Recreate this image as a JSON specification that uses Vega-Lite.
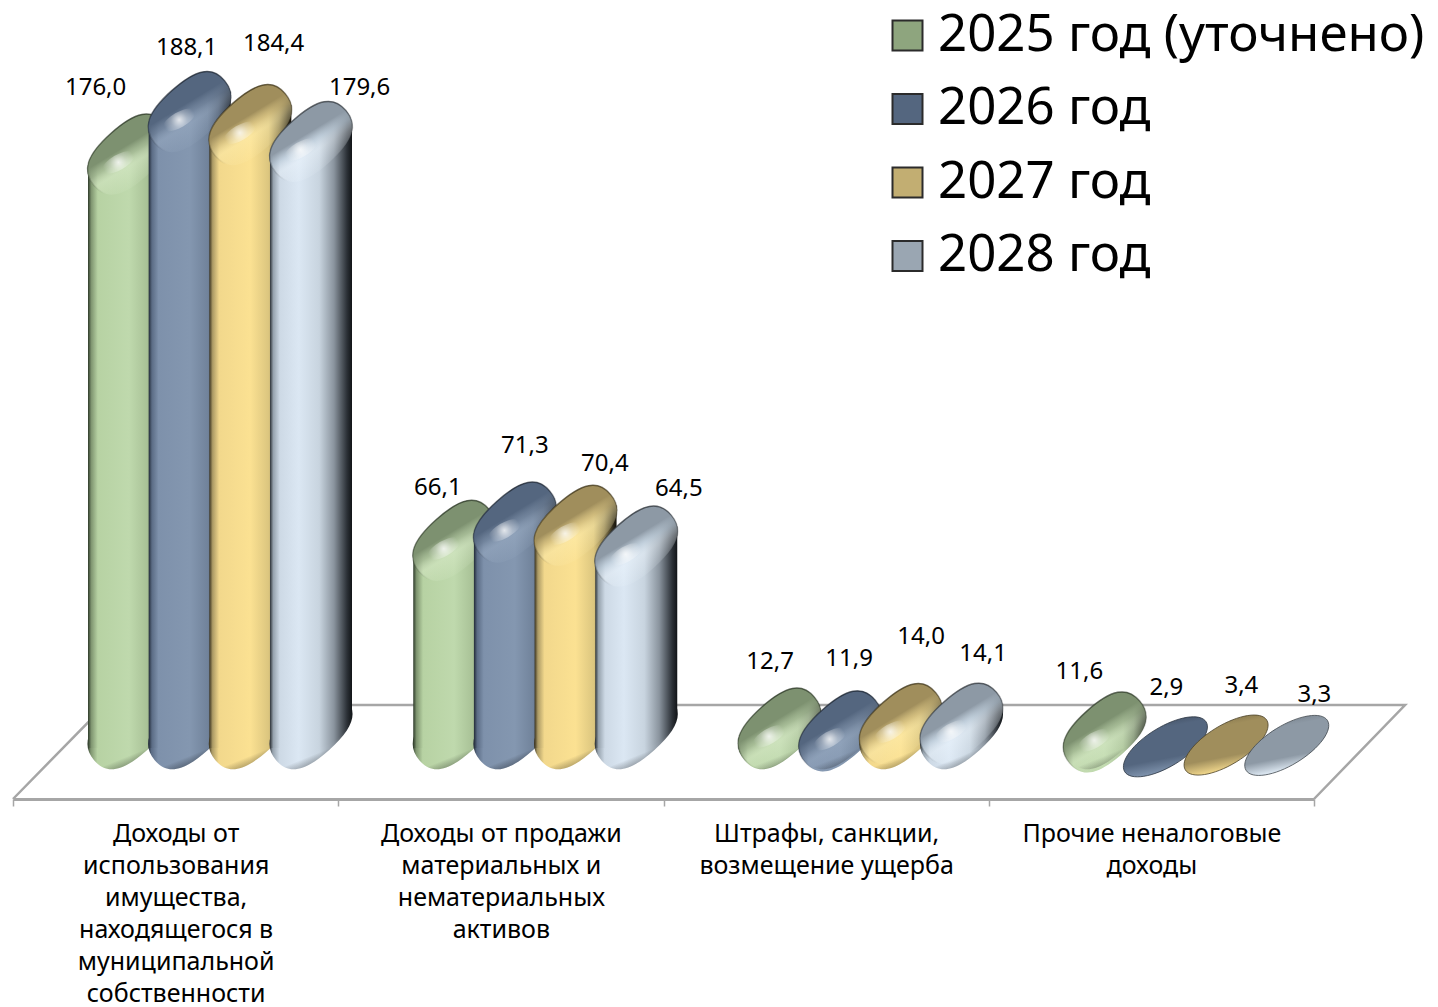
{"$schema":"https://vega.github.io/schema/vega-lite/v6.json","autosize":{"type":"none"},"padding":{"left":13,"top":0,"right":124,"bottom":208},"width":1301,"height":799,"background":"white","config":{"view":{"stroke":null},"font":"Noto Sans"},
"datasets":{"bars":[
{"cat":"Доходы от|использования|имущества,|находящегося в|муниципальной|собственности","year":"2025 год (уточнено)","value":176.0,"lbl":"176,0"},
{"cat":"Доходы от|использования|имущества,|находящегося в|муниципальной|собственности","year":"2026 год","value":188.1,"lbl":"188,1"},
{"cat":"Доходы от|использования|имущества,|находящегося в|муниципальной|собственности","year":"2027 год","value":184.4,"lbl":"184,4"},
{"cat":"Доходы от|использования|имущества,|находящегося в|муниципальной|собственности","year":"2028 год","value":179.6,"lbl":"179,6"},
{"cat":"Доходы от продажи|материальных и|нематериальных|активов","year":"2025 год (уточнено)","value":66.1,"lbl":"66,1"},
{"cat":"Доходы от продажи|материальных и|нематериальных|активов","year":"2026 год","value":71.3,"lbl":"71,3"},
{"cat":"Доходы от продажи|материальных и|нематериальных|активов","year":"2027 год","value":70.4,"lbl":"70,4"},
{"cat":"Доходы от продажи|материальных и|нематериальных|активов","year":"2028 год","value":64.5,"lbl":"64,5"},
{"cat":"Штрафы, санкции,|возмещение ущерба","year":"2025 год (уточнено)","value":12.7,"lbl":"12,7"},
{"cat":"Штрафы, санкции,|возмещение ущерба","year":"2026 год","value":11.9,"lbl":"11,9"},
{"cat":"Штрафы, санкции,|возмещение ущерба","year":"2027 год","value":14.0,"lbl":"14,0"},
{"cat":"Штрафы, санкции,|возмещение ущерба","year":"2028 год","value":14.1,"lbl":"14,1"},
{"cat":"Прочие неналоговые|доходы","year":"2025 год (уточнено)","value":11.6,"lbl":"11,6"},
{"cat":"Прочие неналоговые|доходы","year":"2026 год","value":2.9,"lbl":"2,9"},
{"cat":"Прочие неналоговые|доходы","year":"2027 год","value":3.4,"lbl":"3,4"},
{"cat":"Прочие неналоговые|доходы","year":"2028 год","value":3.3,"lbl":"3,3"}],
"floor":[{"fx":0,"fy":-19.06,"step":1},{"fx":0.283,"fy":7.68,"step":2},{"fx":4.28,"fy":7.68,"step":3},{"fx":4,"fy":-19.06,"step":4}]},
"resolve":{"scale":{"x":"independent"}},
"layer":[
{"data":{"name":"floor"},"mark":{"type":"line","color":"#a6a6a6","strokeWidth":2.5},"encoding":{"x":{"field":"fx","type":"quantitative","scale":{"domain":[0,4],"nice":false,"zero":false},"axis":null},"y":{"field":"fy","type":"quantitative","scale":{"domain":[-19.06,208.25],"nice":false,"zero":false},"axis":null},"order":{"field":"step"}}},
{"data":{"name":"bars"},
"encoding":{"x":{"field":"cat","type":"nominal","sort":null,"scale":{"paddingInner":0,"paddingOuter":0},"axis":{"title":null,"labelAngle":0,"labelExpr":"split(datum.label,'|')","labelLineHeight":32,"labelFontSize":25,"labelColor":"#000","labelLimit":0,"labelOverlap":false,"labelPadding":15,"labelBaseline":"top","tickBand":"extent","tickSize":7,"tickColor":"#a6a6a6","tickWidth":1.5,"domainColor":"#a6a6a6","domainWidth":3,"grid":false}},
"y":{"field":"value","type":"quantitative","scale":{"domain":[-19.06,208.25],"nice":false,"zero":false},"axis":null},
"xOffset":{"field":"year","type":"nominal","sort":null,"scale":{"type":"point","domain":["2025 год (уточнено)","2026 год","2027 год","2028 год"],"range":[116,298],"padding":0}}},
"layer":[
{"transform":[{"filter":"datum.year==='2025 год (уточнено)'"}],"layer":[
{"transform":[{"filter":"datum.value>=12.5"}],"mark":{"type":"point","filled":true,"opacity":1,"size":10000,"shape":"M -0.699 0.563 C -0.95 0.267 -0.847 -0.047 -0.358 -0.483 C 0.132 -0.919 0.449 -0.979 0.699 -0.683 C 0.95 -0.387 0.847 -0.073 0.358 0.363 C -0.132 0.799 -0.449 0.859 -0.699 0.563 Z","fill":{"gradient":"linear","x1":0,"y1":0,"x2":1,"y2":0,"stops":[{"offset":0,"color":"#2e3a2a"},{"offset":0.04,"color":"#7f9570"},{"offset":0.12,"color":"#b7d2a3"},{"offset":0.5,"color":"#bfd9ad"},{"offset":0.72,"color":"#a9c297"},{"offset":0.85,"color":"#76886a"},{"offset":0.96,"color":"#252d20"},{"offset":1,"color":"#10140e"}]}},"encoding":{"y":{"datum":0}}},
{"transform":[{"filter":"datum.value>=5"}],"mark":{"type":"point","filled":true,"opacity":1,"size":10000,"shape":"M -0.699 1.443 C -0.95 1.147 -0.847 0.833 -0.358 0.397 C 0.132 -0.039 0.449 -0.099 0.699 0.197 C 0.95 0.493 0.847 0.807 0.358 1.243 C -0.132 1.679 -0.449 1.739 -0.699 1.443 Z","fill":{"gradient":"linear","x1":0,"y1":0,"x2":1,"y2":0,"stops":[{"offset":0,"color":"#2e3a2a"},{"offset":0.04,"color":"#7f9570"},{"offset":0.12,"color":"#b7d2a3"},{"offset":0.5,"color":"#bfd9ad"},{"offset":0.72,"color":"#a9c297"},{"offset":0.85,"color":"#76886a"},{"offset":0.96,"color":"#252d20"},{"offset":1,"color":"#10140e"}]}}},
{"transform":[{"filter":"datum.value>=20"}],"mark":{"type":"bar","width":82,"yOffset":21,"y2Offset":16,"cornerRadiusTopLeft":39,"cornerRadiusBottomRight":39,"fill":{"gradient":"linear","x1":0,"y1":0,"x2":1,"y2":0,"stops":[{"offset":0,"color":"#2e3a2a"},{"offset":0.04,"color":"#7f9570"},{"offset":0.12,"color":"#b7d2a3"},{"offset":0.5,"color":"#bfd9ad"},{"offset":0.72,"color":"#a9c297"},{"offset":0.85,"color":"#76886a"},{"offset":0.96,"color":"#252d20"},{"offset":1,"color":"#10140e"}]}},"encoding":{"y2":{"datum":0}}},
{"transform":[{"filter":"datum.value>=5"}],"mark":{"type":"point","filled":true,"opacity":1,"size":10000,"shape":"M -0.699 0.563 C -0.95 0.267 -0.847 -0.047 -0.358 -0.483 C 0.132 -0.919 0.449 -0.979 0.699 -0.683 C 0.95 -0.387 0.847 -0.073 0.358 0.363 C -0.132 0.799 -0.449 0.859 -0.699 0.563 Z","fill":{"gradient":"linear","x1":0.35,"y1":0.4,"x2":0.6,"y2":1,"stops":[{"offset":0,"color":"rgba(0,0,0,0)"},{"offset":0.7,"color":"rgba(0,0,0,0)"},{"offset":1,"color":"rgba(30,40,25,0.55)"}]}},"encoding":{"y":{"datum":0}}},
{"transform":[{"filter":"datum.value>=5"}],"mark":{"type":"point","filled":true,"opacity":1,"size":10000,"shape":"M -0.699 1.443 C -0.95 1.147 -0.847 0.833 -0.358 0.397 C 0.132 -0.039 0.449 -0.099 0.699 0.197 C 0.95 0.493 0.847 0.807 0.358 1.243 C -0.132 1.679 -0.449 1.739 -0.699 1.443 Z","strokeWidth":1.5,"stroke":{"gradient":"linear","x1":0.2,"y1":0,"x2":0.6,"y2":0.8,"stops":[{"offset":0,"color":"rgba(35,45,30,0.9)"},{"offset":1,"color":"rgba(35,45,30,0)"}]},"fill":{"gradient":"linear","x1":0.2,"y1":0.05,"x2":0.72,"y2":0.88,"stops":[{"offset":0,"color":"rgba(125,145,112,1)"},{"offset":0.44,"color":"rgba(125,145,112,1)"},{"offset":0.56,"color":"rgba(160,180,145,0.7)"},{"offset":0.68,"color":"rgba(225,240,210,0.4)"},{"offset":1,"color":"rgba(225,240,210,0)"}]}}}
]},
{"transform":[{"filter":"datum.year==='2026 год'"}],"layer":[
{"transform":[{"filter":"datum.value>=12.5"}],"mark":{"type":"point","filled":true,"opacity":1,"size":10000,"shape":"M -0.699 0.563 C -0.95 0.267 -0.847 -0.047 -0.358 -0.483 C 0.132 -0.919 0.449 -0.979 0.699 -0.683 C 0.95 -0.387 0.847 -0.073 0.358 0.363 C -0.132 0.799 -0.449 0.859 -0.699 0.563 Z","fill":{"gradient":"linear","x1":0,"y1":0,"x2":1,"y2":0,"stops":[{"offset":0,"color":"#222b38"},{"offset":0.04,"color":"#5b6c85"},{"offset":0.12,"color":"#7e91ab"},{"offset":0.5,"color":"#8497b0"},{"offset":0.72,"color":"#71839b"},{"offset":0.85,"color":"#4e5c70"},{"offset":0.96,"color":"#1c232d"},{"offset":1,"color":"#0e1218"}]}},"encoding":{"y":{"datum":0}}},
{"transform":[{"filter":"datum.value>=5"}],"mark":{"type":"point","filled":true,"opacity":1,"size":10000,"shape":"M -0.699 1.443 C -0.95 1.147 -0.847 0.833 -0.358 0.397 C 0.132 -0.039 0.449 -0.099 0.699 0.197 C 0.95 0.493 0.847 0.807 0.358 1.243 C -0.132 1.679 -0.449 1.739 -0.699 1.443 Z","fill":{"gradient":"linear","x1":0,"y1":0,"x2":1,"y2":0,"stops":[{"offset":0,"color":"#222b38"},{"offset":0.04,"color":"#5b6c85"},{"offset":0.12,"color":"#7e91ab"},{"offset":0.5,"color":"#8497b0"},{"offset":0.72,"color":"#71839b"},{"offset":0.85,"color":"#4e5c70"},{"offset":0.96,"color":"#1c232d"},{"offset":1,"color":"#0e1218"}]}}},
{"transform":[{"filter":"datum.value>=20"}],"mark":{"type":"bar","width":82,"yOffset":21,"y2Offset":16,"cornerRadiusTopLeft":39,"cornerRadiusBottomRight":39,"fill":{"gradient":"linear","x1":0,"y1":0,"x2":1,"y2":0,"stops":[{"offset":0,"color":"#222b38"},{"offset":0.04,"color":"#5b6c85"},{"offset":0.12,"color":"#7e91ab"},{"offset":0.5,"color":"#8497b0"},{"offset":0.72,"color":"#71839b"},{"offset":0.85,"color":"#4e5c70"},{"offset":0.96,"color":"#1c232d"},{"offset":1,"color":"#0e1218"}]}},"encoding":{"y2":{"datum":0}}},
{"transform":[{"filter":"datum.value>=5"}],"mark":{"type":"point","filled":true,"opacity":1,"size":10000,"shape":"M -0.699 0.563 C -0.95 0.267 -0.847 -0.047 -0.358 -0.483 C 0.132 -0.919 0.449 -0.979 0.699 -0.683 C 0.95 -0.387 0.847 -0.073 0.358 0.363 C -0.132 0.799 -0.449 0.859 -0.699 0.563 Z","fill":{"gradient":"linear","x1":0.35,"y1":0.4,"x2":0.6,"y2":1,"stops":[{"offset":0,"color":"rgba(0,0,0,0)"},{"offset":0.7,"color":"rgba(0,0,0,0)"},{"offset":1,"color":"rgba(20,28,40,0.6)"}]}},"encoding":{"y":{"datum":0}}},
{"transform":[{"filter":"datum.value>=5"}],"mark":{"type":"point","filled":true,"opacity":1,"size":10000,"shape":"M -0.699 1.443 C -0.95 1.147 -0.847 0.833 -0.358 0.397 C 0.132 -0.039 0.449 -0.099 0.699 0.197 C 0.95 0.493 0.847 0.807 0.358 1.243 C -0.132 1.679 -0.449 1.739 -0.699 1.443 Z","strokeWidth":1.5,"stroke":{"gradient":"linear","x1":0.2,"y1":0,"x2":0.6,"y2":0.8,"stops":[{"offset":0,"color":"rgba(25,32,42,0.9)"},{"offset":1,"color":"rgba(25,32,42,0)"}]},"fill":{"gradient":"linear","x1":0.2,"y1":0.05,"x2":0.72,"y2":0.88,"stops":[{"offset":0,"color":"rgba(84,102,127,1)"},{"offset":0.44,"color":"rgba(84,102,127,1)"},{"offset":0.56,"color":"rgba(110,128,152,0.7)"},{"offset":0.68,"color":"rgba(160,178,200,0.4)"},{"offset":1,"color":"rgba(160,178,200,0)"}]}}},
{"transform":[{"filter":"datum.value<5"}],"mark":{"type":"point","filled":true,"opacity":1,"size":10000,"shape":"M -0.815 0.997 A 0.954 0.394 -31.4 1 1 0.815 0.003 A 0.954 0.394 -31.4 1 1 -0.815 0.997 Z","stroke":"#2a3340","strokeWidth":0.8,"fill":{"gradient":"linear","x1":0.35,"y1":0,"x2":0.62,"y2":1,"stops":[{"offset":0,"color":"#3f4c5e"},{"offset":0.2,"color":"#54667f"},{"offset":0.68,"color":"#54667f"},{"offset":0.9,"color":"#8094ae"},{"offset":1,"color":"#5c6d85"}]}}}
]},
{"transform":[{"filter":"datum.year==='2027 год'"}],"layer":[
{"transform":[{"filter":"datum.value>=5"}],"mark":{"type":"point","filled":true,"opacity":1,"size":10000,"shape":"M -0.699 0.563 C -0.95 0.267 -0.847 -0.047 -0.358 -0.483 C 0.132 -0.919 0.449 -0.979 0.699 -0.683 C 0.95 -0.387 0.847 -0.073 0.358 0.363 C -0.132 0.799 -0.449 0.859 -0.699 0.563 Z","fill":{"gradient":"linear","x1":0,"y1":0,"x2":1,"y2":0,"stops":[{"offset":0,"color":"#3a3320"},{"offset":0.04,"color":"#ab9a65"},{"offset":0.12,"color":"#f2d88c"},{"offset":0.5,"color":"#fbe192"},{"offset":0.72,"color":"#dcc67f"},{"offset":0.85,"color":"#8f8153"},{"offset":0.96,"color":"#2c2718"},{"offset":1,"color":"#14110a"}]}},"encoding":{"y":{"datum":0}}},
{"transform":[{"filter":"datum.value>=5"}],"mark":{"type":"point","filled":true,"opacity":1,"size":10000,"shape":"M -0.699 1.443 C -0.95 1.147 -0.847 0.833 -0.358 0.397 C 0.132 -0.039 0.449 -0.099 0.699 0.197 C 0.95 0.493 0.847 0.807 0.358 1.243 C -0.132 1.679 -0.449 1.739 -0.699 1.443 Z","fill":{"gradient":"linear","x1":0,"y1":0,"x2":1,"y2":0,"stops":[{"offset":0,"color":"#3a3320"},{"offset":0.04,"color":"#ab9a65"},{"offset":0.12,"color":"#f2d88c"},{"offset":0.5,"color":"#fbe192"},{"offset":0.72,"color":"#dcc67f"},{"offset":0.85,"color":"#8f8153"},{"offset":0.96,"color":"#2c2718"},{"offset":1,"color":"#14110a"}]}}},
{"transform":[{"filter":"datum.value>=20"}],"mark":{"type":"bar","width":82,"yOffset":21,"y2Offset":16,"cornerRadiusTopLeft":39,"cornerRadiusBottomRight":39,"fill":{"gradient":"linear","x1":0,"y1":0,"x2":1,"y2":0,"stops":[{"offset":0,"color":"#3a3320"},{"offset":0.04,"color":"#ab9a65"},{"offset":0.12,"color":"#f2d88c"},{"offset":0.5,"color":"#fbe192"},{"offset":0.72,"color":"#dcc67f"},{"offset":0.85,"color":"#8f8153"},{"offset":0.96,"color":"#2c2718"},{"offset":1,"color":"#14110a"}]}},"encoding":{"y2":{"datum":0}}},
{"transform":[{"filter":"datum.value>=5"}],"mark":{"type":"point","filled":true,"opacity":1,"size":10000,"shape":"M -0.699 0.563 C -0.95 0.267 -0.847 -0.047 -0.358 -0.483 C 0.132 -0.919 0.449 -0.979 0.699 -0.683 C 0.95 -0.387 0.847 -0.073 0.358 0.363 C -0.132 0.799 -0.449 0.859 -0.699 0.563 Z","fill":{"gradient":"linear","x1":0.35,"y1":0.4,"x2":0.6,"y2":1,"stops":[{"offset":0,"color":"rgba(0,0,0,0)"},{"offset":0.7,"color":"rgba(0,0,0,0)"},{"offset":1,"color":"rgba(60,50,20,0.55)"}]}},"encoding":{"y":{"datum":0}}},
{"transform":[{"filter":"datum.value>=5"}],"mark":{"type":"point","filled":true,"opacity":1,"size":10000,"shape":"M -0.699 1.443 C -0.95 1.147 -0.847 0.833 -0.358 0.397 C 0.132 -0.039 0.449 -0.099 0.699 0.197 C 0.95 0.493 0.847 0.807 0.358 1.243 C -0.132 1.679 -0.449 1.739 -0.699 1.443 Z","strokeWidth":1.5,"stroke":{"gradient":"linear","x1":0.2,"y1":0,"x2":0.6,"y2":0.8,"stops":[{"offset":0,"color":"rgba(50,42,20,0.9)"},{"offset":1,"color":"rgba(50,42,20,0)"}]},"fill":{"gradient":"linear","x1":0.2,"y1":0.05,"x2":0.72,"y2":0.88,"stops":[{"offset":0,"color":"rgba(160,142,92,1)"},{"offset":0.44,"color":"rgba(160,142,92,1)"},{"offset":0.56,"color":"rgba(205,185,125,0.7)"},{"offset":0.68,"color":"rgba(255,240,180,0.4)"},{"offset":1,"color":"rgba(255,240,180,0)"}]}}},
{"transform":[{"filter":"datum.value<5"}],"mark":{"type":"point","filled":true,"opacity":1,"size":10000,"shape":"M -0.815 0.997 A 0.954 0.394 -31.4 1 1 0.815 0.003 A 0.954 0.394 -31.4 1 1 -0.815 0.997 Z","stroke":"#4a4026","strokeWidth":0.8,"fill":{"gradient":"linear","x1":0.35,"y1":0,"x2":0.62,"y2":1,"stops":[{"offset":0,"color":"#7d6f48"},{"offset":0.2,"color":"#a08e5c"},{"offset":0.68,"color":"#a08e5c"},{"offset":0.9,"color":"#f4da8e"},{"offset":1,"color":"#b5a36c"}]}}}
]},
{"transform":[{"filter":"datum.year==='2028 год'"}],"layer":[
{"transform":[{"filter":"datum.value>=5"}],"mark":{"type":"point","filled":true,"opacity":1,"size":10000,"shape":"M -0.699 0.563 C -0.95 0.267 -0.847 -0.047 -0.358 -0.483 C 0.132 -0.919 0.449 -0.979 0.699 -0.683 C 0.95 -0.387 0.847 -0.073 0.358 0.363 C -0.132 0.799 -0.449 0.859 -0.699 0.563 Z","fill":{"gradient":"linear","x1":0,"y1":0,"x2":1,"y2":0,"stops":[{"offset":0,"color":"#2d3237"},{"offset":0.04,"color":"#96a2ad"},{"offset":0.12,"color":"#cdd9e5"},{"offset":0.35,"color":"#dbe7f3"},{"offset":0.6,"color":"#c8d4df"},{"offset":0.78,"color":"#8a949e"},{"offset":0.94,"color":"#2b3036"},{"offset":1,"color":"#111417"}]}},"encoding":{"y":{"datum":0}}},
{"transform":[{"filter":"datum.value>=5"}],"mark":{"type":"point","filled":true,"opacity":1,"size":10000,"shape":"M -0.699 1.443 C -0.95 1.147 -0.847 0.833 -0.358 0.397 C 0.132 -0.039 0.449 -0.099 0.699 0.197 C 0.95 0.493 0.847 0.807 0.358 1.243 C -0.132 1.679 -0.449 1.739 -0.699 1.443 Z","fill":{"gradient":"linear","x1":0,"y1":0,"x2":1,"y2":0,"stops":[{"offset":0,"color":"#2d3237"},{"offset":0.04,"color":"#96a2ad"},{"offset":0.12,"color":"#cdd9e5"},{"offset":0.35,"color":"#dbe7f3"},{"offset":0.6,"color":"#c8d4df"},{"offset":0.78,"color":"#8a949e"},{"offset":0.94,"color":"#2b3036"},{"offset":1,"color":"#111417"}]}}},
{"transform":[{"filter":"datum.value>=20"}],"mark":{"type":"bar","width":82,"yOffset":21,"y2Offset":16,"cornerRadiusTopLeft":39,"cornerRadiusBottomRight":39,"fill":{"gradient":"linear","x1":0,"y1":0,"x2":1,"y2":0,"stops":[{"offset":0,"color":"#2d3237"},{"offset":0.04,"color":"#96a2ad"},{"offset":0.12,"color":"#cdd9e5"},{"offset":0.35,"color":"#dbe7f3"},{"offset":0.6,"color":"#c8d4df"},{"offset":0.78,"color":"#8a949e"},{"offset":0.94,"color":"#2b3036"},{"offset":1,"color":"#111417"}]}},"encoding":{"y2":{"datum":0}}},
{"transform":[{"filter":"datum.value>=5"}],"mark":{"type":"point","filled":true,"opacity":1,"size":10000,"shape":"M -0.699 0.563 C -0.95 0.267 -0.847 -0.047 -0.358 -0.483 C 0.132 -0.919 0.449 -0.979 0.699 -0.683 C 0.95 -0.387 0.847 -0.073 0.358 0.363 C -0.132 0.799 -0.449 0.859 -0.699 0.563 Z","fill":{"gradient":"linear","x1":0.35,"y1":0.4,"x2":0.6,"y2":1,"stops":[{"offset":0,"color":"rgba(0,0,0,0)"},{"offset":0.7,"color":"rgba(0,0,0,0)"},{"offset":1,"color":"rgba(40,45,50,0.55)"}]}},"encoding":{"y":{"datum":0}}},
{"transform":[{"filter":"datum.value>=5"}],"mark":{"type":"point","filled":true,"opacity":1,"size":10000,"shape":"M -0.699 1.443 C -0.95 1.147 -0.847 0.833 -0.358 0.397 C 0.132 -0.039 0.449 -0.099 0.699 0.197 C 0.95 0.493 0.847 0.807 0.358 1.243 C -0.132 1.679 -0.449 1.739 -0.699 1.443 Z","strokeWidth":1.5,"stroke":{"gradient":"linear","x1":0.2,"y1":0,"x2":0.6,"y2":0.8,"stops":[{"offset":0,"color":"rgba(35,40,45,0.9)"},{"offset":1,"color":"rgba(35,40,45,0)"}]},"fill":{"gradient":"linear","x1":0.2,"y1":0.05,"x2":0.72,"y2":0.88,"stops":[{"offset":0,"color":"rgba(141,153,165,1)"},{"offset":0.44,"color":"rgba(141,153,165,1)"},{"offset":0.56,"color":"rgba(190,205,218,0.7)"},{"offset":0.68,"color":"rgba(240,248,255,0.4)"},{"offset":1,"color":"rgba(240,248,255,0)"}]}}},
{"transform":[{"filter":"datum.value<5"}],"mark":{"type":"point","filled":true,"opacity":1,"size":10000,"shape":"M -0.815 0.997 A 0.954 0.394 -31.4 1 1 0.815 0.003 A 0.954 0.394 -31.4 1 1 -0.815 0.997 Z","stroke":"#3f464d","strokeWidth":0.8,"fill":{"gradient":"linear","x1":0.35,"y1":0,"x2":0.62,"y2":1,"stops":[{"offset":0,"color":"#727c87"},{"offset":0.2,"color":"#8d99a5"},{"offset":0.68,"color":"#8d99a5"},{"offset":0.9,"color":"#e3eef8"},{"offset":1,"color":"#aab5c0"}]}}}
]},
{"transform":[{"filter":"datum.value>=5"}],"mark":{"type":"point","filled":true,"opacity":1,"size":10000,"shape":"M -0.52 1.16 A 0.36 0.14 -30 1 1 0.1 0.8 A 0.36 0.14 -30 1 1 -0.52 1.16 Z","fill":{"gradient":"radial","x1":0.5,"y1":0.5,"r1":0,"x2":0.5,"y2":0.5,"r2":0.5,"stops":[{"offset":0,"color":"rgba(255,255,255,0.8)"},{"offset":0.5,"color":"rgba(255,255,255,0.3)"},{"offset":1,"color":"rgba(255,255,255,0)"}]}}},
{"mark":{"type":"point","filled":true,"size":0},"encoding":{"color":{"field":"year","type":"nominal","sort":null,"scale":{"domain":["2025 год (уточнено)","2026 год","2027 год","2028 год"],"range":["#8ea57e","#54667f","#c2ae72","#9aa6b2"]},"legend":{"title":null,"orient":"none","legendX":869,"legendY":10,"symbolType":"square","symbolSize":900,"symbolStrokeColor":"#2b2b2b","symbolStrokeWidth":2,"symbolOpacity":1,"labelFontSize":51,"labelColor":"#000","labelLimit":0,"labelOffset":5,"rowPadding":21.5,"labelFont":"Noto Sans"}}}},
{"encoding":{"xOffset":{"value":162.6},"text":{"field":"lbl"}},"layer":[
{"transform":[{"filter":"datum.lbl==='176,0'"}],"mark":{"type":"text","dx":-80,"dy":-25,"fontSize":24,"color":"#000"}},
{"transform":[{"filter":"datum.lbl==='188,1'"}],"mark":{"type":"text","dx":11,"dy":-23,"fontSize":24,"color":"#000"}},
{"transform":[{"filter":"datum.lbl==='184,4'"}],"mark":{"type":"text","dx":98,"dy":-40,"fontSize":24,"color":"#000"}},
{"transform":[{"filter":"datum.lbl==='179,6'"}],"mark":{"type":"text","dx":184,"dy":-13,"fontSize":24,"color":"#000"}},
{"transform":[{"filter":"datum.lbl==='66,1'"}],"mark":{"type":"text","dx":-63,"dy":-12,"fontSize":24,"color":"#000"}},
{"transform":[{"filter":"datum.lbl==='71,3'"}],"mark":{"type":"text","dx":24,"dy":-35,"fontSize":24,"color":"#000"}},
{"transform":[{"filter":"datum.lbl==='70,4'"}],"mark":{"type":"text","dx":104,"dy":-21,"fontSize":24,"color":"#000"}},
{"transform":[{"filter":"datum.lbl==='64,5'"}],"mark":{"type":"text","dx":178,"dy":-16,"fontSize":24,"color":"#000"}},
{"transform":[{"filter":"datum.lbl==='12,7'"}],"mark":{"type":"text","dx":-56,"dy":-25,"fontSize":24,"color":"#000"}},
{"transform":[{"filter":"datum.lbl==='11,9'"}],"mark":{"type":"text","dx":23,"dy":-31,"fontSize":24,"color":"#000"}},
{"transform":[{"filter":"datum.lbl==='14,0'"}],"mark":{"type":"text","dx":95,"dy":-46,"fontSize":24,"color":"#000"}},
{"transform":[{"filter":"datum.lbl==='14,1'"}],"mark":{"type":"text","dx":157,"dy":-28,"fontSize":24,"color":"#000"}},
{"transform":[{"filter":"datum.lbl==='11,6'"}],"mark":{"type":"text","dx":-72,"dy":-19,"fontSize":24,"color":"#000"}},
{"transform":[{"filter":"datum.lbl==='2,9'"}],"mark":{"type":"text","dx":15,"dy":-34,"fontSize":24,"color":"#000"}},
{"transform":[{"filter":"datum.lbl==='3,4'"}],"mark":{"type":"text","dx":90,"dy":-34,"fontSize":24,"color":"#000"}},
{"transform":[{"filter":"datum.lbl==='3,3'"}],"mark":{"type":"text","dx":163,"dy":-25,"fontSize":24,"color":"#000"}}
]}
]}
]}
